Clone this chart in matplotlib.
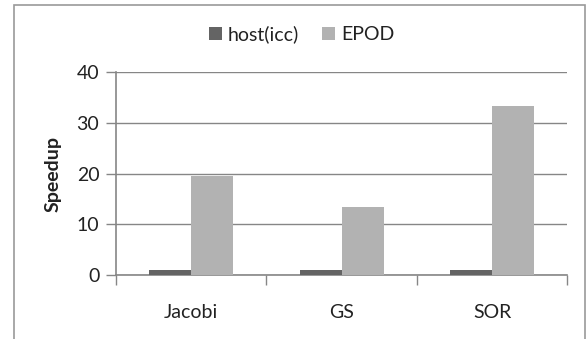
import matplotlib.pyplot as plt
from matplotlib.patches import Rectangle
import numpy as np

categories = ["Jacobi", "GS", "SOR"]
host_icc = [1.0, 1.0, 1.0]
epod = [19.6, 13.5, 33.4]
y_ticks = [0, 10, 20, 30, 40]

plt.rcParams["font.family"] = ["Lato", "DejaVu Sans"]

fig = plt.figure(figsize=(5.86, 3.39), dpi=100)
ax = fig.add_axes([0.198, 0.189, 0.77, 0.598])

x = np.arange(len(categories))
width = 0.28
gray_line = "#868686"
fs = 14

ax.bar(x - width / 2, host_icc, width, color="#646464", label="host(icc)", zorder=3)
ax.bar(x + width / 2, epod, width, color="#b2b2b2", label="EPOD", zorder=3)

ax.set_xlim(-0.5, len(categories) - 0.5)
ax.set_ylim(0, 40)
ax.set_yticks(y_ticks)
ax.yaxis.grid(True, color=gray_line, linewidth=1)
ax.set_axisbelow(True)

ax.set_xticks(x)
ax.set_xticklabels(categories, fontsize=fs, color="#222222")
ax.set_xticks(np.arange(-0.5, len(categories)), minor=True)
ax.tick_params(axis="x", which="major", length=0, pad=21)
ax.tick_params(axis="x", which="minor", length=7, color=gray_line, width=1)
ax.tick_params(axis="y", length=7, color=gray_line, width=1, labelsize=fs,
               labelcolor="#222222", pad=5)

for side in ["top", "right"]:
    ax.spines[side].set_visible(False)
for side in ["left", "bottom"]:
    ax.spines[side].set_color(gray_line)
    ax.spines[side].set_linewidth(1.2)

ax.set_ylabel("Speedup", fontsize=fs, fontweight="bold", color="#222222", labelpad=11)

leg = fig.legend(loc="center", bbox_to_anchor=(0.515, 0.9), ncol=2, frameon=False,
                 fontsize=fs, handlelength=0.65, handleheight=0.65,
                 handletextpad=0.3, columnspacing=1.2)
for t in leg.get_texts():
    t.set_color("#222222")

# outer chart border
fig.patches.append(Rectangle((14 / 586, -0.1), 571 / 586, 1.1 - 5 / 339,
                             transform=fig.transFigure, fill=False,
                             edgecolor="#9a9a9a", linewidth=1.2, clip_on=False))

fig.savefig("out.png", dpi=100)
